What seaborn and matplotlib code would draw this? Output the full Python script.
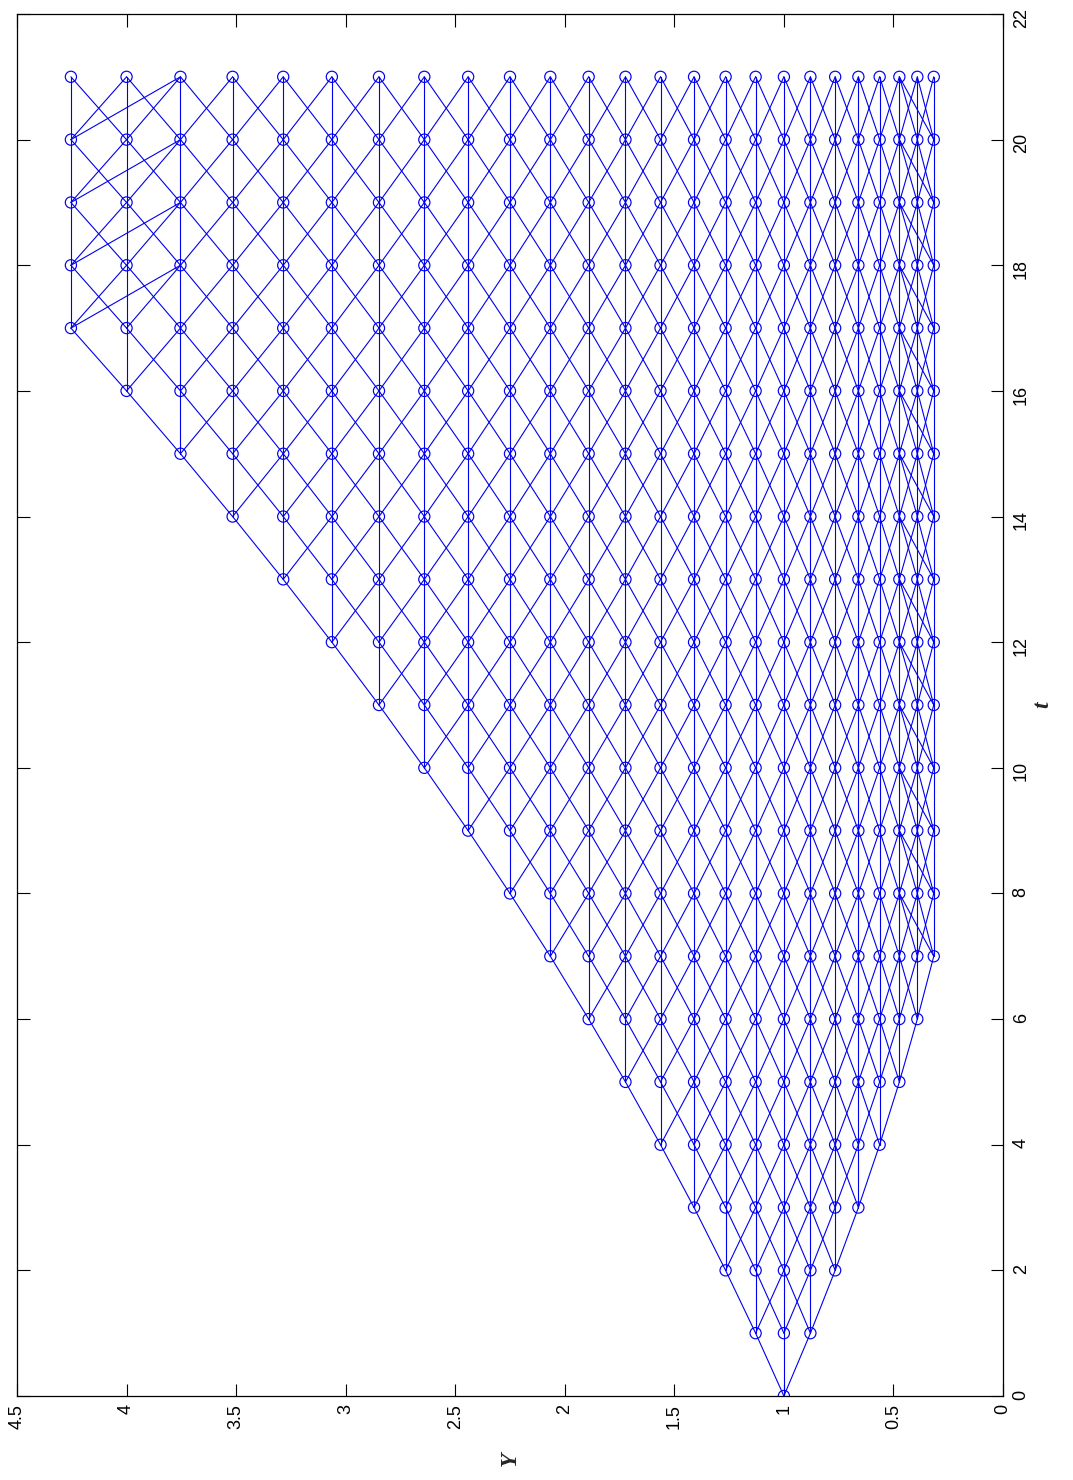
import matplotlib
matplotlib.use("Agg")
import matplotlib.pyplot as plt
import numpy as np
import pandas as pd
import seaborn as sns

# ---- data ---------------------------------------------------------------
# lattice level indices (lowest to highest) and the Y value of each level
level_index = list(range(-7, 18))
level_values = [0.316, 0.391, 0.473, 0.563, 0.660, 0.766, 0.879, 1.000,
                1.129, 1.266, 1.410, 1.563, 1.723, 1.891, 2.066, 2.250,
                2.441, 2.641, 2.848, 3.063, 3.285, 3.516, 3.754, 4.000,
                4.254]
time_steps = list(range(0, 22))          # t = 0 .. 21
t_ticks = [0, 2, 4, 6, 8, 10, 12, 14, 16, 18, 20, 22]
y_ticks = [0, 0.5, 1, 1.5, 2, 2.5, 3, 3.5, 4, 4.5]
y_tick_labels = ["0", "0.5", "1", "1.5", "2", "2.5", "3", "3.5", "4", "4.5"]

# ---- build lattice nodes and edges (trinomial tree) -----------------------
jmin, jmax = level_index[0], level_index[-1]
yval = dict(zip(level_index, level_values))

node_rows = []
for t in time_steps:
    for j in range(max(-t, jmin), min(t, jmax) + 1):
        node_rows.append({"t": t, "j": j, "Y": yval[j]})
nodes = pd.DataFrame(node_rows)

edge_rows = []
eid = 0
for t in time_steps[:-1]:
    for j in range(max(-t, jmin), min(t, jmax) + 1):
        if j == jmax and t >= jmax:
            targets = [j, j - 1, j - 2]
        elif j == jmin and t >= -jmin:
            targets = [j, j + 1, j + 2]
        else:
            targets = [j + 1, j, j - 1]
        for k in targets:
            edge_rows.append({"edge": eid, "t": t, "Y": yval[j]})
            edge_rows.append({"edge": eid, "t": t + 1, "Y": yval[k]})
            eid += 1
edges = pd.DataFrame(edge_rows)

# ---- plotting -------------------------------------------------------------
sns.set_style("white")
plt.rcParams["font.family"] = ["Liberation Sans", "DejaVu Sans"]

fig = plt.figure(figsize=(10.73, 14.80), dpi=100)
ax = fig.add_axes([17 / 1073, 1 - 1396 / 1480, (1003 - 17) / 1073, (1396 - 14) / 1480])

sns.lineplot(data=edges, x="Y", y="t", units="edge", estimator=None,
             sort=False, color="#0000ee", linewidth=0.8, ax=ax, legend=False)
sns.scatterplot(data=nodes, x="Y", y="t", marker="o", s=65,
                facecolor="none", edgecolor="#0000ee", linewidth=0.85,
                ax=ax, zorder=3, legend=False)

ax.set_xlim(4.5, 0)
ax.set_ylim(0, 22)
ax.set_xticks(y_ticks)
ax.set_xticklabels(y_tick_labels)
ax.set_yticks(t_ticks)
ax.set_yticklabels([str(v) for v in t_ticks])

ax.yaxis.tick_right()
ax.tick_params(axis="both", which="both", direction="in", length=9,
               width=0.8, color="black", labelcolor="black", labelsize=13,
               top=True, bottom=True, left=True, right=True,
               labelleft=False, labelright=True, labeltop=False,
               labelbottom=True)
ax.tick_params(axis="x", labelrotation=90, pad=6)
ax.tick_params(axis="y", labelrotation=90, pad=7)

for sp in ax.spines.values():
    sp.set_visible(True)
    sp.set_color("black")
    sp.set_linewidth(0.9)

ax.set_xlabel("Y", fontsize=17, fontweight="bold", fontstyle="italic",
              family=["Liberation Serif", "DejaVu Serif"], rotation=90)
ax.xaxis.set_label_coords(0.5, -0.040)
ax.yaxis.set_label_position("right")
ax.set_ylabel("t", fontsize=17, fontweight="bold", fontstyle="italic",
              family=["Liberation Serif", "DejaVu Serif"], rotation=90)
ax.yaxis.set_label_coords(1.030, 0.5)

ax.set_facecolor("white")
fig.patch.set_facecolor("white")
fig.savefig("out.png", dpi=100, facecolor="white")
